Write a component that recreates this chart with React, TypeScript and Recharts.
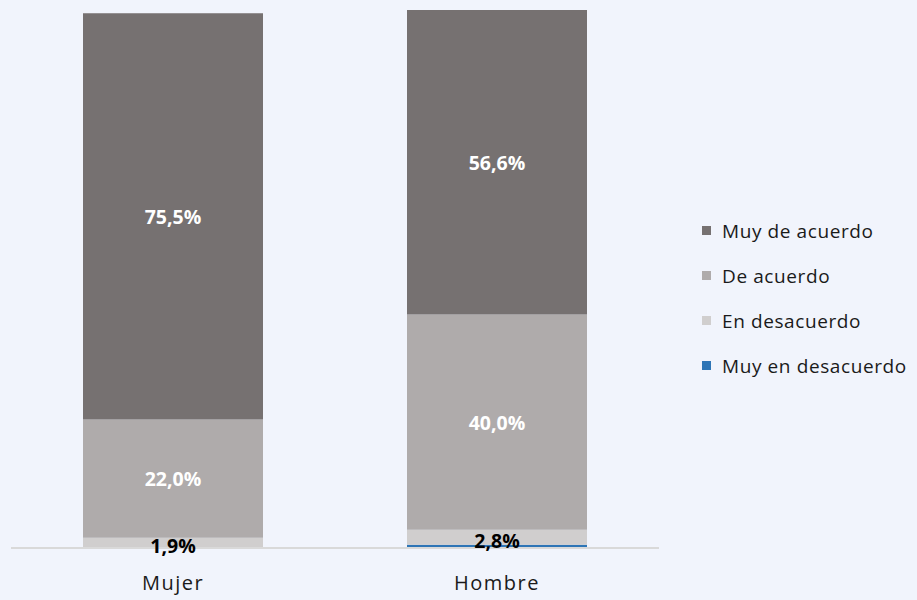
import { BarChart, Bar, XAxis, YAxis, LabelList } from "recharts";

const categories = ["Mujer", "Hombre"];
const muyEnDesacuerdo = [0, 0.6];
const enDesacuerdo = [1.9, 2.8];
const deAcuerdo = [22.0, 40.0];
const muyDeAcuerdo = [75.5, 56.6];

const SERIES = [
  { key: "muyEnDesacuerdo", name: "Muy en desacuerdo", color: "#2E75B6", values: muyEnDesacuerdo, label: "none" },
  { key: "enDesacuerdo", name: "En desacuerdo", color: "#D0CECE", values: enDesacuerdo, label: "dark" },
  { key: "deAcuerdo", name: "De acuerdo", color: "#AFABAB", values: deAcuerdo, label: "light" },
  { key: "muyDeAcuerdo", name: "Muy de acuerdo", color: "#767171", values: muyDeAcuerdo, label: "light" },
];

const data = categories.map((c, i) => {
  const row: Record<string, string | number> = { name: c };
  SERIES.forEach((s) => (row[s.key] = s.values[i]));
  return row;
});

const FONT = "'Open Sans', 'Noto Sans', sans-serif";
const BG = "#F1F4FC";

const fmt = (v: number) => v.toFixed(1).replace(".", ",") + "%";

function makeLabel(kind: string) {
  return (props: any) => {
    const { x, y, width, height, value } = props;
    if (kind === "none" || !value) return null;
    const dark = kind === "dark";
    return (
      <text
        x={x + width / 2}
        y={y + height / 2 + (dark ? 3 : 0)}
        textAnchor="middle"
        dominantBaseline="central"
        fill={dark ? "#000000" : "#FFFFFF"}
        fontFamily={FONT}
        fontWeight={700}
        fontSize={19.5}
      >
        {fmt(Number(value))}
      </text>
    );
  };
}

function LegendBox() {
  const items = [...SERIES].reverse();
  return (
    <div style={{ position: "absolute", left: 702, top: 208, width: 215, fontFamily: FONT }}>
      {items.map((s) => (
        <div key={s.key} style={{ display: "flex", alignItems: "center", height: 45 }}>
          <span style={{ width: 9, height: 9, background: s.color, display: "inline-block", marginRight: 11 }} />
          <span style={{ fontSize: 19, color: "#1a1a1a", letterSpacing: 0.6, whiteSpace: "nowrap" }}>{s.name}</span>
        </div>
      ))}
    </div>
  );
}

export default function App() {
  return (
    <div style={{ position: "absolute", left: 0, top: 0, width: 917, height: 600, background: BG }}>
      <BarChart
        width={917}
        height={600}
        data={data}
        margin={{ top: 10, right: 258, bottom: 0, left: 11 }}
        barCategoryGap={72}
      >
        <XAxis
          dataKey="name"
          height={52}
          axisLine={{ stroke: "#D9D9D9", strokeWidth: 2 }}
          tickLine={false}
          tick={{ fill: "#1a1a1a", fontSize: 20, fontFamily: FONT, letterSpacing: 1.5 }}
          tickMargin={22}
        />
        <YAxis hide domain={[0, 100]} />
        {SERIES.map((s) => (
          <Bar key={s.key} dataKey={s.key} name={s.name} stackId="a" fill={s.color} barSize={180} isAnimationActive={false}>
            <LabelList dataKey={s.key} content={makeLabel(s.label)} />
          </Bar>
        ))}
      </BarChart>
      <LegendBox />
    </div>
  );
}
